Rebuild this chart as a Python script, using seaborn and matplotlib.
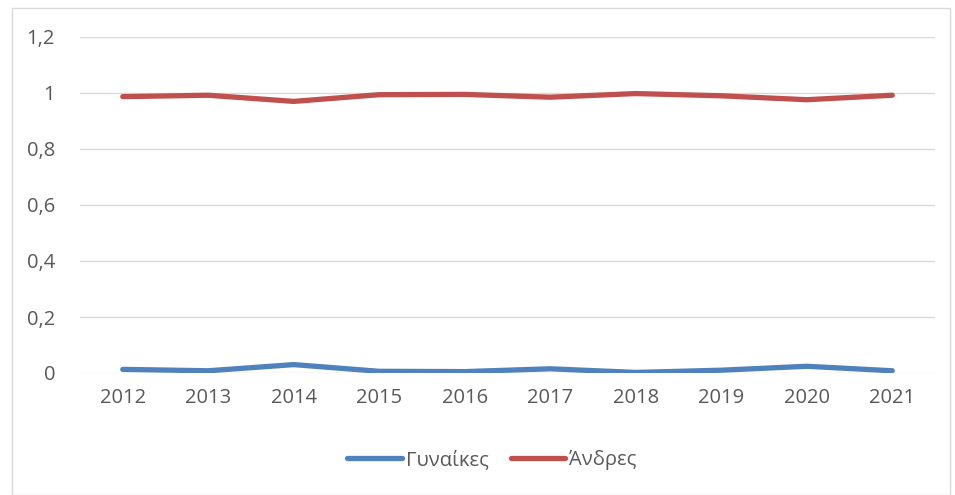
import numpy as np
import pandas as pd
import matplotlib.pyplot as plt
import seaborn as sns
from matplotlib.patches import Rectangle

years = [2012, 2013, 2014, 2015, 2016, 2017, 2018, 2019, 2020, 2021]
women = [0.013, 0.008, 0.030, 0.006, 0.005, 0.015, 0.002, 0.010, 0.024, 0.008]
men = [0.987, 0.992, 0.970, 0.994, 0.995, 0.985, 0.998, 0.990, 0.976, 0.992]
series_names = ['Γυναίκες', 'Άνδρες']
yticks = [0, 0.2, 0.4, 0.6, 0.8, 1, 1.2]
ytick_labels = ['0', '0,2', '0,4', '0,6', '0,8', '1', '1,2']

df = pd.DataFrame({
	'x': list(range(len(years))) * 2,
	'value': women + men,
	'series': [series_names[0]] * len(years) + [series_names[1]] * len(years),
})

sns.set_style('white')
plt.rcParams['font.family'] = ['Open Sans', 'DejaVu Sans']
grey = '#595959'
fs = 14.5

fig = plt.figure(figsize=(9.55, 4.95), dpi=100)
ax = fig.add_axes([80/955, 1 - 373/495, 855/955, 336/495])

sns.lineplot(data=df, x='x', y='value', hue='series',
		palette=['#4F81BD', '#C0504D'], linewidth=3.8, ax=ax,
		legend=True, solid_capstyle='round')

ax.set_xlim(-0.5, len(years) - 0.5)
ax.set_ylim(0, 1.2)
ax.set_yticks(yticks)
ax.set_yticklabels(ytick_labels)
ax.set_xticks(range(len(years)))
ax.set_xticklabels(years)
ax.grid(axis='y', color='#D9D9D9', linewidth=1)
ax.set_axisbelow(True)
for s in ax.spines.values():
	s.set_visible(False)
ax.tick_params(axis='both', length=0, labelsize=fs, labelcolor=grey)
ax.tick_params(axis='y', pad=18)
ax.tick_params(axis='x', pad=11)
ax.set_xlabel('')
ax.set_ylabel('')

h, l = ax.get_legend_handles_labels()
ax.legend(h, l, loc='center', bbox_to_anchor=(492/955, 1 - 460/495),
		bbox_transform=fig.transFigure, ncol=2, frameon=False,
		fontsize=fs, labelcolor=grey, handlelength=2.7,
		handletextpad=0.2, columnspacing=1.1)

fig.patches.append(Rectangle((12/955, 0), 938/955, 1 - 8/495,
		transform=fig.transFigure, fill=False, edgecolor='#D9D9D9', linewidth=1))

plt.savefig('out.png', dpi=100)
